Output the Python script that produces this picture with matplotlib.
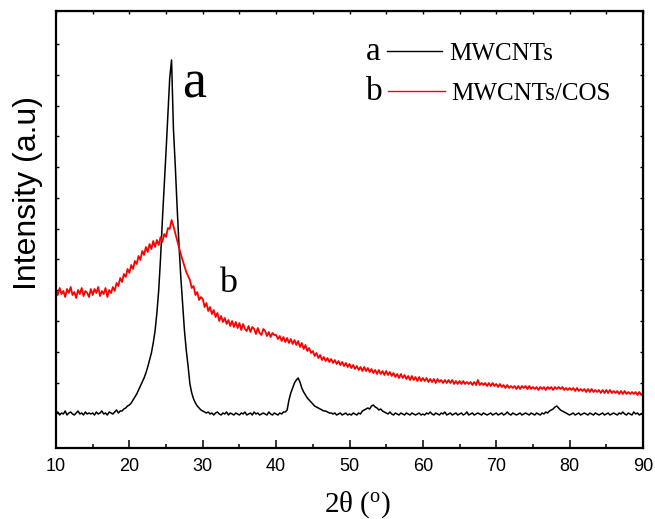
import numpy as np
import matplotlib
matplotlib.use("Agg")
import matplotlib.pyplot as plt

plt.rcParams['mathtext.fontset'] = 'custom'
plt.rcParams['mathtext.rm'] = 'Liberation Serif'
plt.rcParams['mathtext.it'] = 'Liberation Serif:italic'

# 2-theta grid: 10 to 90 degrees in 0.25 degree steps
two_theta_start = 10.0
two_theta_step = 0.25

# MWCNTs diffraction intensity (a.u.), one row per 5 degrees
mwcnts = [
    34, 36, 33, 35, 34, 37, 33, 35, 36, 34, 33, 35, 37, 34, 35, 33, 36, 34, 35, 34,
    35, 33, 36, 34, 35, 37, 34, 35, 33, 36, 35, 34, 36, 38, 35, 37, 37, 39, 40, 42,
    43, 45, 48, 51, 54, 58, 62, 66, 70, 75, 81, 88, 95, 105, 117, 135, 158, 190, 228, 262,
    297, 334, 370, 388, 320, 283, 242, 205, 172, 145, 118, 98, 82, 64, 55, 49, 45, 42, 40, 38,
    37, 36, 35, 36, 34, 35, 33, 35, 36, 34, 33, 35, 34, 36, 33, 35, 34, 33, 35, 34,
    33, 35, 34, 36, 33, 34, 35, 33, 36, 34, 35, 33, 34, 35, 34, 33, 36, 34, 33, 35,
    34, 33, 35, 34, 36, 36, 38, 48, 55, 60, 65, 68, 70, 66, 60, 56, 53, 50, 48, 46,
    44, 42, 41, 40, 39, 38, 37, 37, 36, 35, 35, 34, 35, 33, 34, 35, 33, 34, 35, 33,
    34, 33, 35, 34, 33, 35, 34, 37, 38, 39, 40, 39, 42, 43, 41, 40, 38, 39, 37, 36,
    35, 34, 36, 34, 33, 35, 34, 33, 35, 34, 33, 35, 34, 33, 35, 34, 33, 34, 35, 33,
    34, 33, 35, 34, 36, 34, 33, 35, 34, 33, 35, 34, 36, 33, 34, 35, 33, 34, 35, 33,
    34, 35, 33, 34, 36, 33, 34, 35, 33, 34, 35, 34, 33, 35, 34, 33, 34, 35, 33, 34,
    35, 33, 34, 35, 33, 34, 36, 34, 33, 35, 34, 33, 34, 35, 33, 34, 35, 34, 33, 35,
    34, 33, 35, 34, 33, 35, 34, 36, 35, 37, 38, 39, 41, 42, 40, 38, 37, 36, 35, 34,
    33, 34, 35, 33, 34, 35, 33, 34, 35, 34, 33, 35, 34, 33, 35, 34, 33, 34, 35, 33,
    34, 35, 33, 34, 35, 34, 33, 35, 34, 36, 34, 33, 35, 34, 33, 36, 34, 35, 33, 34,
    34,
]

# MWCNTs/COS diffraction intensity (a.u.), one row per 5 degrees
mwcnts_cos = [
    158, 153, 160, 154, 157, 151, 159, 155, 161, 153, 156, 150, 158, 154, 160, 152, 157, 155, 151, 159,
    153, 159, 155, 161, 152, 157, 154, 160, 151, 158, 155, 161, 157, 165, 162, 170, 166, 174, 171, 179,
    175, 183, 179, 187, 184, 192, 188, 197, 193, 201, 196, 204, 199, 207, 201, 208, 203, 211, 206, 214,
    211, 220, 219, 228, 222, 215, 208, 201, 194, 188, 182, 176, 172, 168, 160, 162, 153, 156, 148, 151,
    149, 141, 145, 137, 141, 134, 138, 131, 135, 127, 132, 126, 130, 124, 128, 122, 127, 121, 126, 120,
    125, 118, 124, 119, 117, 122, 116, 121, 119, 114, 120, 115, 113, 119, 117, 112, 116, 111, 115, 113,
    113, 109, 112, 107, 111, 106, 110, 105, 109, 104, 108, 103, 107, 101, 105, 99, 103, 97, 100, 95,
    97, 92, 95, 90, 93, 88, 91, 87, 90, 86, 89, 85, 88, 84, 87, 83, 86, 82, 85, 81,
    84, 80, 83, 79, 82, 78, 81, 77, 81, 77, 80, 76, 79, 75, 78, 74, 78, 74, 77, 73,
    77, 73, 76, 72, 75, 71, 74, 70, 74, 70, 73, 69, 72, 68, 72, 68, 71, 67, 71, 67,
    70, 67, 70, 66, 69, 66, 69, 65, 69, 66, 68, 65, 68, 65, 68, 65, 68, 64, 67, 64,
    67, 64, 67, 64, 66, 64, 66, 63, 66, 63, 68, 63, 65, 63, 65, 62, 65, 62, 65, 62,
    64, 61, 64, 61, 63, 60, 63, 60, 62, 60, 62, 59, 62, 59, 62, 60, 62, 59, 62, 59,
    61, 59, 61, 58, 61, 59, 61, 58, 61, 59, 61, 58, 61, 59, 61, 59, 61, 58, 60, 58,
    60, 58, 60, 57, 60, 57, 59, 57, 59, 56, 59, 56, 59, 56, 58, 56, 58, 55, 58, 55,
    58, 55, 58, 55, 57, 55, 57, 54, 57, 54, 57, 54, 56, 54, 56, 54, 56, 53, 56, 53,
    55,
]

x_ticks = [10, 20, 30, 40, 50, 60, 70, 80, 90]
series_labels = ["MWCNTs", "MWCNTs/COS"]
series_tags = ["a", "b"]

two_theta = two_theta_start + two_theta_step * np.arange(len(mwcnts))

W, H = 655, 519
fig = plt.figure(figsize=(W / 100, H / 100), dpi=100)
ax = fig.add_axes([56 / W, 71 / H, 587 / W, 437 / H])

ax.plot(two_theta, mwcnts, color="black", lw=1.1)
ax.plot(two_theta, mwcnts_cos, color="#ff0000", lw=1.3)

ax.set_xlim(10, 90)
ax.set_ylim(0, 437)
ax.set_xticks(x_ticks)
ax.set_xticks(np.arange(15, 90, 10), minor=True)
ax.set_yticks(34.7 + 30.78 * np.arange(13))

for s in ax.spines.values():
    s.set_linewidth(1.6)

ax.tick_params(axis="x", which="major", direction="in", length=5.5, width=1.1,
               labelsize=13, pad=7)
ax.tick_params(axis="x", which="minor", direction="in", length=3, width=1.1)
ax.tick_params(axis="y", direction="in", length=2.5, width=1.0, labelleft=False)
for lab in ax.get_xticklabels():
    lab.set_fontfamily("Liberation Sans")

# ticks on the top and right edges
top = ax.secondary_xaxis("top")
top.set_xticks(np.arange(10, 91, 5))
top.tick_params(direction="in", length=2.5, width=1.0, labeltop=False)
right = ax.secondary_yaxis("right")
right.set_yticks(34.7 + 30.78 * np.arange(13))
right.tick_params(direction="in", length=2.5, width=1.0, labelright=False)

# axis titles
fig.text(28 / W, 1 - 193 / H, "Intensity (a.u)", rotation=90, ha="center",
         va="center", fontsize=23, family="Liberation Sans")
fig.text(358 / W, 1 - 512 / H, r"2θ ($^{\mathrm{o}}$)", ha="center",
         va="baseline", fontsize=21, family="Liberation Serif")

# curve tags
serif = "Liberation Serif"
ax.text(27.2, 351, series_tags[0], fontsize=39, family=serif, va="baseline")
ax.text(32.2, 156, series_tags[1], fontsize=26, family=serif, va="baseline")

# key
colors = ["black", "#ff0000"]
rows_y = [0.888, 0.796]
line_y = [0.9085, 0.817]
line_x = [(0.5634, 0.6584), (0.5661, 0.6627)]
label_x = [0.670, 0.674]
for i in range(2):
    ax.text(0.528, rows_y[i], series_tags[i], transform=ax.transAxes,
            fontsize=24, family=serif, va="baseline")
    ax.plot(line_x[i], [line_y[i]] * 2, transform=ax.transAxes,
            color=colors[i], lw=1.0)
    ax.text(label_x[i], rows_y[i], series_labels[i], transform=ax.transAxes,
            fontsize=18, family=serif, va="baseline")

fig.savefig("out.png", dpi=100)
